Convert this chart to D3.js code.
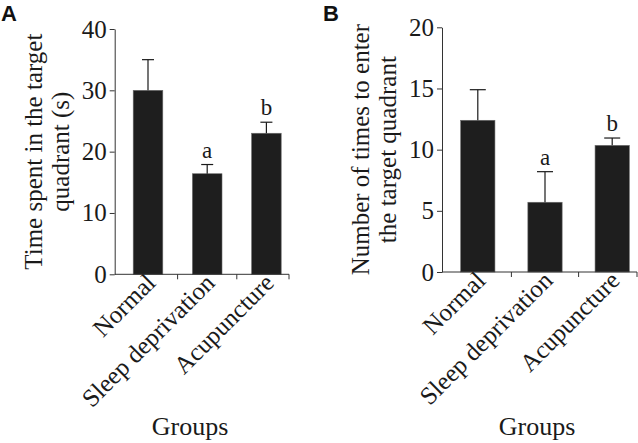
<!DOCTYPE html>
<html><head><meta charset="utf-8">
<script src="https://cdn.jsdelivr.net/npm/d3@7"></script>
<style>
html,body{margin:0;padding:0;background:#fff;}
svg{display:block;}
</style></head>
<body>
<svg id="c" width="638" height="443"></svg>
<script>
const categories = ["Normal", "Sleep deprivation", "Acupuncture"];
const timeMean = [30.0, 16.4, 23.0];
const timeErr = [5.0, 1.5, 1.8];
const enterMean = [12.4, 5.7, 10.35];
const enterErr = [2.5, 2.5, 0.6];
const letters = ["", "a", "b"];
const timeTicks = [0, 10, 20, 30, 40];
const enterTicks = [0, 5, 10, 15, 20];

const svg = d3.select("#c");
const serif = "'Liberation Serif', 'DejaVu Serif', serif";
const ink = "#1a1a1a";

function panel(opt) {
  const g = svg.append("g");
  const y = d3.scaleLinear().domain([0, opt.max]).range([opt.y0, opt.y1]);
  const x = d3.scaleBand().domain(categories).range(opt.xr).padding(0);
  const bw = x.bandwidth();

  // bars
  g.selectAll("rect.bar").data(categories).join("rect")
    .attr("x", (d) => x(d) + bw * opt.gap)
    .attr("width", bw * (1 - 2 * opt.gap))
    .attr("y", (d, i) => y(opt.mean[i]))
    .attr("height", (d, i) => y(0) - y(opt.mean[i]))
    .attr("fill", "#1e1e1e")
    .attr("stroke", "#6a6a6a").attr("stroke-width", 0.6);

  // error bars
  const cx = (d) => x(d) + bw / 2;
  g.selectAll("line.err").data(categories).join("line")
    .attr("x1", cx).attr("x2", cx)
    .attr("y1", (d, i) => y(opt.mean[i]))
    .attr("y2", (d, i) => y(opt.mean[i] + opt.err[i]))
    .attr("stroke", ink).attr("stroke-width", 1.2);
  g.selectAll("line.cap").data(categories).join("line")
    .attr("x1", (d) => cx(d) - opt.cap / 2).attr("x2", (d) => cx(d) + opt.cap / 2)
    .attr("y1", (d, i) => y(opt.mean[i] + opt.err[i]))
    .attr("y2", (d, i) => y(opt.mean[i] + opt.err[i]))
    .attr("stroke", ink).attr("stroke-width", 1.2);

  // significance letters
  g.selectAll("text.sig").data(categories).join("text")
    .attr("x", cx)
    .attr("y", (d, i) => y(opt.mean[i] + opt.err[i]) - 7)
    .attr("text-anchor", "middle")
    .attr("font-family", serif).attr("font-size", 23).attr("fill", ink)
    .text((d, i) => letters[i]);

  // y axis
  const ya = g.append("g").attr("transform", `translate(${opt.ax},0)`)
    .call(d3.axisLeft(y).tickValues(opt.ticks).tickSize(5).tickSizeOuter(0).tickPadding(3));
  ya.selectAll("text").attr("font-family", serif).attr("font-size", 25).attr("fill", ink);
  ya.selectAll("line,path").attr("stroke", "#333").attr("stroke-width", 1);

  // x axis line + ticks at band boundaries and end
  const base = y(0);
  g.append("line").attr("x1", opt.ax).attr("x2", opt.xend)
    .attr("y1", base).attr("y2", base).attr("stroke", "#333").attr("stroke-width", 1);
  const tickXs = categories.slice(1).map((d) => x(d)).concat([opt.xend]);
  g.selectAll("line.xt").data(tickXs).join("line")
    .attr("x1", (d) => d).attr("x2", (d) => d)
    .attr("y1", base).attr("y2", base + 5)
    .attr("stroke", "#333").attr("stroke-width", 1);

  // category labels
  g.selectAll("text.cat").data(categories).join("text")
    .attr("transform", (d) => `translate(${cx(d) + 9},${base + 10}) rotate(-45)`)
    .attr("text-anchor", "end")
    .attr("font-family", serif).attr("font-size", 25).attr("fill", ink)
    .text((d) => d);

  // y title
  const mid = (opt.y0 + opt.y1) / 2;
  opt.title.forEach((t, k) => {
    g.append("text")
      .attr("transform", `translate(${opt.tx + k * 27},${mid}) rotate(-90)`)
      .attr("text-anchor", "middle")
      .attr("font-family", serif).attr("font-size", 25).attr("fill", ink)
      .text(t);
  });

  // x title
  g.append("text").attr("x", opt.gx).attr("y", 435)
    .attr("text-anchor", "middle")
    .attr("font-family", serif).attr("font-size", 26).attr("fill", ink)
    .text("Groups");

  // panel letter
  g.append("text").attr("x", opt.lx).attr("y", 21)
    .attr("font-family", "'Liberation Sans', Arial, sans-serif")
    .attr("font-weight", "bold").attr("font-size", 22).attr("fill", "#111")
    .text(opt.letter);
}

panel({
  max: 40, y0: 274.3, y1: 29, ax: 114.7, xend: 289, xr: [118.4, 296],
  gap: 0.25, cap: 12, mean: timeMean, err: timeErr, ticks: timeTicks,
  title: ["Time spent in the target", "quadrant (s)"], tx: 42, gx: 190, lx: 1, letter: "A"
});
panel({
  max: 20, y0: 272, y1: 27.3, ax: 442, xend: 637, xr: [444.2, 645.8],
  gap: 0.245, cap: 16, mean: enterMean, err: enterErr, ticks: enterTicks,
  title: ["Number of times to enter", "the target quadrant"], tx: 369, gx: 537, lx: 323, letter: "B"
});
</script>
</body></html>
